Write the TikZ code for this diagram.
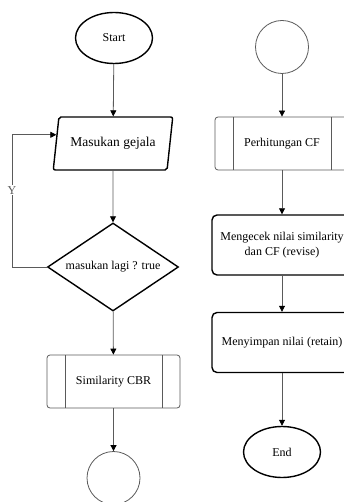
\documentclass[tikz,border=0pt]{standalone}
\usepackage{fontspec}
\setmainfont{Liberation Serif}
\usetikzlibrary{shapes.geometric,arrows.meta,calc}
\definecolor{linegrey}{RGB}{90,90,90}

\begin{document}
\begin{tikzpicture}[
    x=1pt, y=-1pt,
    font=\fontsize{12}{15}\selectfont,
    arr/.style={-{Triangle[length=6pt,width=6pt,color=black]}, linegrey, line width=0.8pt},
    term/.style={draw, ellipse, line width=1.4pt, minimum width=77pt,
                 minimum height=51pt, inner sep=0pt},
    inout/.style={draw, trapezium, trapezium left angle=70, trapezium right angle=110,
                  trapezium stretches=true, line width=1.4pt, rounded corners=2pt,
                  minimum width=120pt, minimum height=53pt, inner sep=0pt},
    decide/.style={draw, diamond, aspect=1.5, line width=1.4pt, minimum width=131pt,
                   minimum height=88pt, inner sep=0pt},
    subproc/.style={draw, linegrey, line width=0.8pt, rounded corners=3pt,
                    minimum width=133pt, minimum height=53pt, text=black,
                    path picture={
                      \draw[linegrey, line width=0.8pt]
                        ([xshift=18pt]path picture bounding box.north west) --
                        ([xshift=18pt]path picture bounding box.south west)
                        ([xshift=-18pt]path picture bounding box.north east) --
                        ([xshift=-18pt]path picture bounding box.south east);}},
    proc/.style={draw, line width=1.4pt, rounded corners=5pt, minimum width=140pt,
                 minimum height=60pt, align=center},
    conn/.style={draw, linegrey, line width=0.8pt, circle, minimum size=53pt},
    lbl/.style={fill=white, inner sep=1pt}
]
    \useasboundingbox (0,0) rectangle (343,502);
    % left column
    \node[term] (start) at (114,38) {Start};
    \node[inout, font=\fontsize{13.5}{16}\selectfont] (inp) at (113,143.5) {Masukan gejala};
    \node[decide] (dec) at (113,267) {masukan lagi ? true};
    \node[subproc] (cbr) at (113.5,381.5) {Similarity CBR};
    \node[conn] (offa) at (113.5,478) {};
    % right column
    \node[conn] (offb) at (282,47) {};
    \node[subproc, minimum width=134pt] (cf) at (282,143.5) {Perhitungan CF};
    \node[proc] (revise) at (282,245) {Mengecek nilai similarity\\dan CF (revise)};
    \node[proc] (retain) at (282,342.5) {Menyimpan nilai (retain)};
    \node[term] (end) at (282,452) {End};

    \draw[arr] (start) -- (inp);
    \draw[arr] (inp) -- (dec);
    \draw[arr] (dec) -- (cbr);
    \draw[arr] (cbr) -- (offa);
    \coordinate (loopc) at (12,267);
    \coordinate (loopin) at ($(inp.top left corner)!0.34!(inp.bottom left corner)$);
    \draw[arr] (dec.west) -- (loopc) |- node[lbl, pos=0.29] (yes) {Y} (loopin);

    \draw[arr] (offb) -- (cf);
    \draw[arr] (cf) -- (revise);
    \draw[arr] (revise) -- (retain);
    \draw[arr] (retain) -- (end);
\end{tikzpicture}
\end{document}
